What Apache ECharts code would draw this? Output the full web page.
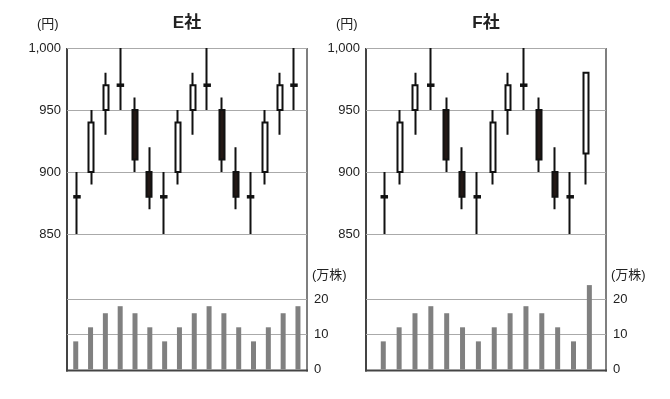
<!DOCTYPE html>
<html><head><meta charset="utf-8">
<script src="https://cdn.jsdelivr.net/npm/echarts@6/dist/echarts.min.js"></script>
<style>html,body{margin:0;padding:0;background:#fff}#c{width:670px;height:399px}</style>
</head><body><div id="c"></div>
<script>
// ---- data ----
const companies = ['E社', 'F社'];
const priceTicks = [850, 900, 950, 1000];
const volumeTicks = [0, 10, 20];
const priceUnit = '(円)';
const volumeUnit = '(万株)';

const eOpen   = [880, 900, 950, 970, 950, 900, 880, 900, 950, 970, 950, 900, 880, 900, 950, 970];
const eClose  = [880, 940, 970, 970, 910, 880, 880, 940, 970, 970, 910, 880, 880, 940, 970, 970];
const eLow    = [850, 890, 930, 950, 900, 870, 850, 890, 930, 950, 900, 870, 850, 890, 930, 950];
const eHigh   = [900, 950, 980, 1000, 960, 920, 900, 950, 980, 1000, 960, 920, 900, 950, 980, 1000];
const eVolume = [8, 12, 16, 18, 16, 12, 8, 12, 16, 18, 16, 12, 8, 12, 16, 18];

const fOpen   = [880, 900, 950, 970, 950, 900, 880, 900, 950, 970, 950, 900, 880, 915];
const fClose  = [880, 940, 970, 970, 910, 880, 880, 940, 970, 970, 910, 880, 880, 980];
const fLow    = [850, 890, 930, 950, 900, 870, 850, 890, 930, 950, 900, 870, 850, 890];
const fHigh   = [900, 950, 980, 1000, 960, 920, 900, 950, 980, 1000, 960, 920, 900, 980];
const fVolume = [8, 12, 16, 18, 16, 12, 8, 12, 16, 18, 16, 12, 8, 24];

// ---- layout / style ----
const FONT = "'Liberation Sans', Arial, 'Noto Sans CJK JP', sans-serif";
const priceTop = 48, priceHeight = 186;
const volTop = 264, volHeight = 105.5;
const volMax = 30;
const panels = [
  { left: 67,  width: 240, cMin: -0.69, cMax: 15.9,  vMin: -0.59, vMax: 15.61,
    open: eOpen, close: eClose, low: eLow, high: eHigh, vol: eVolume },
  { left: 366, width: 240, cMin: -1.18, cMax: 14.31, vMin: -1.09, vMax: 14.05,
    open: fOpen, close: fClose, low: fLow, high: fHigh, vol: fVolume }
];

const grid = [], xAxis = [], yAxis = [], series = [], title = [], graphic = [];
const bottom = volTop + volHeight;

panels.forEach((p, k) => {
  const gi = grid.length;
  grid.push({ left: p.left, top: priceTop, width: p.width, height: priceHeight });
  grid.push({ left: p.left, top: volTop, width: p.width, height: volHeight });

  xAxis.push({ type: 'value', gridIndex: gi, min: p.cMin, max: p.cMax, show: false });
  xAxis.push({ type: 'value', gridIndex: gi + 1, min: p.vMin, max: p.vMax, show: false });

  yAxis.push({
    type: 'value', gridIndex: gi, position: 'left',
    min: priceTicks[0], max: priceTicks[priceTicks.length - 1],
    interval: priceTicks[1] - priceTicks[0],
    axisLine: { show: false }, axisTick: { show: false },
    axisLabel: { margin: 6, fontSize: 13, color: '#222', fontFamily: FONT,
      formatter: v => v.toLocaleString('en-US') },
    splitLine: { lineStyle: { color: '#aaa', width: 1 } }
  });
  yAxis.push({
    type: 'value', gridIndex: gi + 1, position: 'right',
    min: volumeTicks[0], max: volMax, interval: volumeTicks[1] - volumeTicks[0],
    axisLine: { show: false }, axisTick: { show: false },
    axisLabel: { margin: 7, fontSize: 13, color: '#222', fontFamily: FONT,
      showMaxLabel: false,
      formatter: v => volumeTicks.indexOf(v) >= 0 ? String(v) : '' },
    splitLine: { showMinLine: false, showMaxLine: false, lineStyle: { color: '#aaa', width: 1 } }
  });

  series.push({
    type: 'candlestick', xAxisIndex: gi, yAxisIndex: gi,
    barWidth: 5.5,
    data: p.open.map((o, i) => [i, o, p.close[i], p.low[i], p.high[i]]),
    itemStyle: { color: '#ffffff', color0: '#231815', borderColor: '#111',
      borderColor0: '#111', borderWidth: 2 }
  });
  // doji (open == close) marks drawn as short thick dashes
  series.push({
    type: 'scatter', xAxisIndex: gi, yAxisIndex: gi, z: 5,
    symbol: 'rect', symbolSize: [7.5, 3.5],
    data: p.open.map((o, i) => [i, o]).filter((d, i) => p.open[i] === p.close[i]),
    itemStyle: { color: '#111', opacity: 1 }
  });
  series.push({
    type: 'bar', xAxisIndex: gi + 1, yAxisIndex: gi + 1,
    barWidth: 5,
    data: p.vol.map((v, i) => [i, v]),
    itemStyle: { color: '#808080' }
  });

  const cx = p.left + p.width / 2;
  title.push({
    text: companies[k], left: cx, top: 15, textAlign: 'center', padding: 0,
    textStyle: { fontSize: 17, fontWeight: 'bold', color: '#222', fontFamily: FONT }
  });
  title.push({
    text: priceUnit, left: p.left - 30, top: 18, padding: 0,
    textStyle: { fontSize: 13, fontWeight: 'normal', color: '#222', fontFamily: FONT }
  });
  title.push({
    text: volumeUnit, left: p.left + p.width + 5, top: 269, padding: 0,
    textStyle: { fontSize: 13, fontWeight: 'normal', color: '#222', fontFamily: FONT }
  });

  graphic.push(
    { type: 'line', shape: { x1: p.left, y1: priceTop, x2: p.left, y2: bottom + 2 },
      style: { stroke: '#444', lineWidth: 2 } },
    { type: 'line', shape: { x1: p.left + p.width, y1: priceTop, x2: p.left + p.width, y2: bottom + 2 },
      style: { stroke: '#555', lineWidth: 1.5 } },
    { type: 'line', shape: { x1: p.left - 1, y1: bottom + 1, x2: p.left + p.width + 1, y2: bottom + 1 },
      style: { stroke: '#444', lineWidth: 2 } }
  );
});

const chart = echarts.init(document.getElementById('c'), null, { renderer: 'canvas' });
chart.setOption({
  animation: false,
  backgroundColor: '#fff',
  title, grid, xAxis, yAxis, series, graphic
});
</script>
</body></html>
